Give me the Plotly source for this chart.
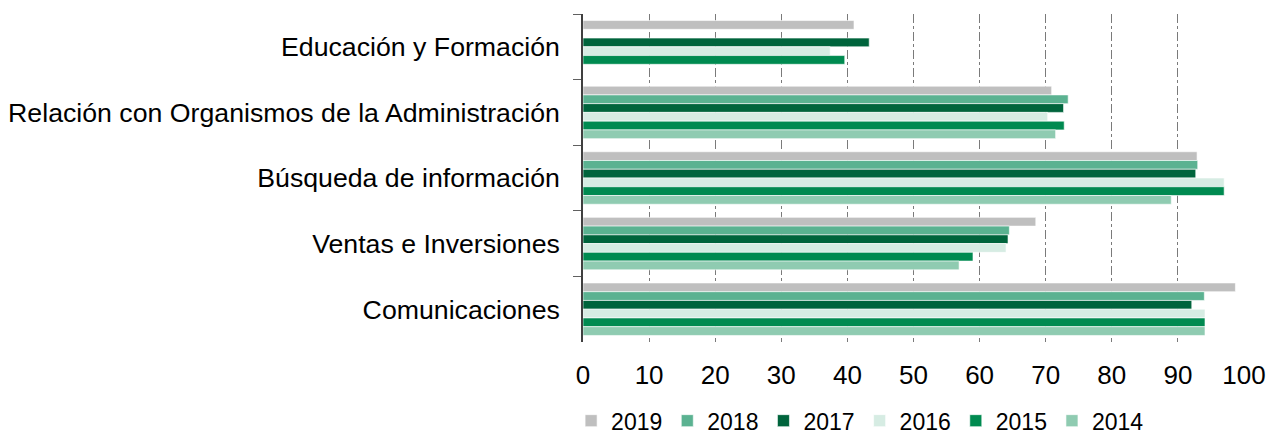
import plotly.graph_objects as go

categories = ['Educación y Formación',
              'Relación con Organismos de la Administración',
              'Búsqueda de información',
              'Ventas e Inversiones',
              'Comunicaciones']

years = ['2019', '2018', '2017', '2016', '2015', '2014']

v2019 = [41.0, 70.9, 92.9, 68.5, 98.7]
v2018 = [None, 73.4, 93.0, 64.5, 94.0]
v2017 = [43.3, 72.7, 92.7, 64.3, 92.1]
v2016 = [37.4, 70.3, 97.0, 64.0, 94.1]
v2015 = [39.6, 72.8, 97.0, 59.0, 94.1]
v2014 = [None, 71.5, 89.0, 56.9, 94.1]

values = [v2019, v2018, v2017, v2016, v2015, v2014]
colors = ['#BFBFBF', '#5BB291', '#00643C', '#D6ECE3', '#008A50', '#8FCBB1']

fig = go.Figure()
for yr, vals, col in zip(years, values, colors):
    fig.add_trace(go.Bar(y=categories, x=vals, name=yr, orientation='h',
                         marker=dict(color=col, line=dict(color='white', width=0.6))))

fig.update_layout(
    width=1273, height=439,
    barmode='group', bargap=0.2, bargroupgap=0,
    plot_bgcolor='white', paper_bgcolor='white',
    font=dict(family='Liberation Sans, Arial, sans-serif', size=26, color='black'),
    margin=dict(l=583, r=29, t=14, b=97, autoexpand=False),
    legend=dict(orientation='h', x=-0.018, xanchor='left', y=-0.24, yanchor='middle',
                traceorder='normal', font=dict(size=23)),
)
fig.update_xaxes(range=[0, 100], dtick=10, showgrid=True, gridcolor='#7a7a7a',
                 griddash='dashdot', gridwidth=1, zeroline=False, showline=False,
                 ticks='outside', ticklen=10, tickcolor='white', automargin=False)
fig.update_yaxes(autorange='reversed', showline=True, linecolor='#404040', linewidth=1.5,
                 ticks='outside', tickson='boundaries', ticklen=8, tickcolor='#606060',
                 ticklabelstandoff=16, showgrid=False, automargin=False,
                 tickfont=dict(size=26.7))

fig.write_html('out.html', config={'displayModeBar': False},
               post_script="document.body.style.margin='0';")
